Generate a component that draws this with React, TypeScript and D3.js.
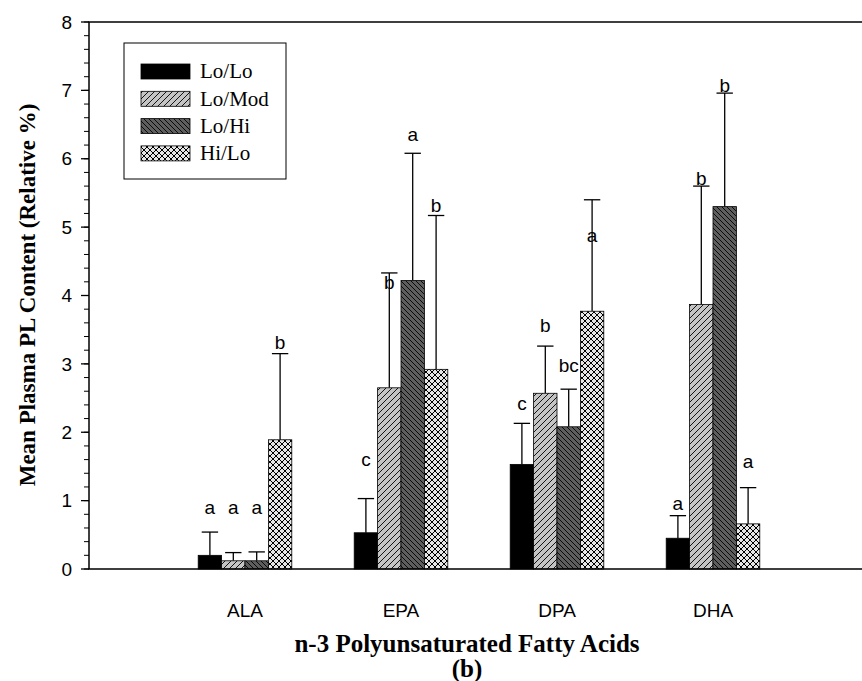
import React, { useRef, useEffect } from 'react';
import * as d3 from 'd3';

// n-3 fatty acid categories and diet groups
const acids = ['ALA', 'EPA', 'DPA', 'DHA'];
const groups = ['Lo/Lo', 'Lo/Mod', 'Lo/Hi', 'Hi/Lo'];

// mean values per group, one entry per acid
const loLo = [0.2, 0.53, 1.53, 0.45];
const loMod = [0.12, 2.65, 2.57, 3.87];
const loHi = [0.12, 4.22, 2.08, 5.3];
const hiLo = [1.89, 2.92, 3.77, 0.66];

// top of the error bar (mean + SD)
const loLoErr = [0.54, 1.03, 2.13, 0.78];
const loModErr = [0.24, 4.33, 3.26, 5.6];
const loHiErr = [0.25, 6.08, 2.63, 6.96];
const hiLoErr = [3.15, 5.17, 5.4, 1.19];

// significance letters and the height of their baseline
const loLoLetters = ['a', 'c', 'c', 'a'];
const loModLetters = ['a', 'b', 'b', 'b'];
const loHiLetters = ['a', 'a', 'bc', 'b'];
const hiLoLetters = ['b', 'b', 'a', 'a'];
const loLoLetterY = [0.8, 1.5, 2.33, 0.87];
const loModLetterY = [0.8, 4.1, 3.47, 5.62];
const loHiLetterY = [0.8, 6.26, 2.88, 6.98];
const hiLoLetterY = [3.22, 5.22, 4.78, 1.48];

const yTicks = [0, 1, 2, 3, 4, 5, 6, 7, 8];

const sans = '"Liberation Sans", Arial, sans-serif';
const serif = '"Liberation Serif", "Times New Roman", serif';

const App: React.FC = () => {
  const svgRef = useRef<SVGSVGElement>(null);
  const width = 862;
  const height = 681;

  useEffect(() => {
    const svg = d3.select(svgRef.current);
    svg.selectAll('*').remove();

    const means = [loLo, loMod, loHi, hiLo];
    const errs = [loLoErr, loModErr, loHiErr, hiLoErr];
    const letters = [loLoLetters, loModLetters, loHiLetters, hiLoLetters];
    const letterY = [loLoLetterY, loModLetterY, loHiLetterY, hiLoLetterY];
    const fills = ['#000', 'url(#pMod)', 'url(#pHi)', 'url(#pHiLo)'];

    // patterns
    const defs = svg.append('defs');
    const pMod = defs.append('pattern')
      .attr('id', 'pMod')
      .attr('patternUnits', 'userSpaceOnUse')
      .attr('width', 6).attr('height', 6);
    pMod.append('rect').attr('width', 6).attr('height', 6).attr('fill', '#c4c4c4');
    pMod.append('path').attr('d', 'M-1,1 l2,-2 M0,6 l6,-6 M5,7 l2,-2')
      .attr('stroke', '#000').attr('stroke-width', 0.9);

    const pHi = defs.append('pattern')
      .attr('id', 'pHi')
      .attr('patternUnits', 'userSpaceOnUse')
      .attr('width', 5).attr('height', 5);
    pHi.append('rect').attr('width', 5).attr('height', 5).attr('fill', '#5e5e5e');
    pHi.append('path').attr('d', 'M-1,4 l2,2 M0,0 l5,5 M4,-1 l2,2')
      .attr('stroke', '#000').attr('stroke-width', 0.9);

    const pHiLo = defs.append('pattern')
      .attr('id', 'pHiLo')
      .attr('patternUnits', 'userSpaceOnUse')
      .attr('width', 6).attr('height', 6);
    pHiLo.append('rect').attr('width', 6).attr('height', 6).attr('fill', '#e6e6e6');
    pHiLo.append('path').attr('d', 'M-1,1 l2,-2 M0,6 l6,-6 M5,7 l2,-2 M-1,5 l2,2 M0,0 l6,6 M5,-1 l2,2')
      .attr('stroke', '#000').attr('stroke-width', 1);

    // scales
    const x = d3.scaleLinear().domain([0, 5]).range([89, 869]);
    const y = d3.scaleLinear().domain([0, 8]).range([569, 22]);
    const barW = (x(1) - x(0)) * 0.15;

    // bars, error bars and letters
    means.forEach((series, gi) => {
      series.forEach((v, ai) => {
        const cx = x(ai + 1) + (gi - 1.5) * barW;
        svg.append('line')
          .attr('x1', cx).attr('x2', cx)
          .attr('y1', y(v)).attr('y2', y(errs[gi][ai]))
          .attr('stroke', '#000').attr('stroke-width', 1.3);
        svg.append('line')
          .attr('x1', cx - barW * 0.35).attr('x2', cx + barW * 0.35)
          .attr('y1', y(errs[gi][ai])).attr('y2', y(errs[gi][ai]))
          .attr('stroke', '#000').attr('stroke-width', 1.3);
        svg.append('rect')
          .attr('x', cx - barW / 2)
          .attr('y', y(v))
          .attr('width', barW)
          .attr('height', y(0) - y(v))
          .attr('fill', fills[gi])
          .attr('stroke', '#000')
          .attr('stroke-width', 0.8);
        svg.append('text')
          .attr('x', cx)
          .attr('y', y(letterY[gi][ai]))
          .attr('text-anchor', 'middle')
          .style('font-family', sans)
          .style('font-size', '19px')
          .text(letters[gi][ai]);
      });
    });

    // frame
    svg.append('path')
      .attr('d', `M${x(5)},${y(8)} H${x(0)} V${y(0)} H${x(5)}`)
      .attr('fill', 'none').attr('stroke', '#000').attr('stroke-width', 1.5);

    // y ticks
    const minor = d3.range(0, 8.001, 0.2);
    svg.selectAll('.minor')
      .data(minor)
      .enter()
      .append('line')
      .attr('x1', x(0) - 5).attr('x2', x(0))
      .attr('y1', d => y(d)).attr('y2', d => y(d))
      .attr('stroke', '#000').attr('stroke-width', 1);
    svg.selectAll('.major')
      .data(yTicks)
      .enter()
      .append('line')
      .attr('x1', x(0) - 8).attr('x2', x(0))
      .attr('y1', d => y(d)).attr('y2', d => y(d))
      .attr('stroke', '#000').attr('stroke-width', 1.3);
    svg.selectAll('.ylab')
      .data(yTicks)
      .enter()
      .append('text')
      .attr('x', x(0) - 17)
      .attr('y', d => y(d))
      .attr('dy', '0.35em')
      .attr('text-anchor', 'end')
      .style('font-family', sans)
      .style('font-size', '19px')
      .text(d => d);

    // x labels
    svg.selectAll('.xlab')
      .data(acids)
      .enter()
      .append('text')
      .attr('x', (d, i) => x(i + 1))
      .attr('y', 617)
      .attr('text-anchor', 'middle')
      .style('font-family', sans)
      .style('font-size', '19px')
      .text(d => d);

    // axis titles
    svg.append('text')
      .attr('transform', 'rotate(-90)')
      .attr('x', -295)
      .attr('y', 35)
      .attr('text-anchor', 'middle')
      .style('font-family', serif)
      .style('font-weight', 'bold')
      .style('font-size', '23px')
      .text('Mean Plasma PL Content (Relative %)');
    svg.append('text')
      .attr('x', 467)
      .attr('y', 652)
      .attr('text-anchor', 'middle')
      .style('font-family', serif)
      .style('font-weight', 'bold')
      .style('font-size', '25px')
      .text('n-3 Polyunsaturated Fatty Acids');
    svg.append('text')
      .attr('x', 467)
      .attr('y', 677)
      .attr('text-anchor', 'middle')
      .style('font-family', serif)
      .style('font-weight', 'bold')
      .style('font-size', '25px')
      .text('(b)');

    // legend
    const lg = svg.append('g');
    lg.append('rect')
      .attr('x', 124).attr('y', 43)
      .attr('width', 162).attr('height', 136)
      .attr('fill', '#fff').attr('stroke', '#000').attr('stroke-width', 1);
    groups.forEach((g, i) => {
      const cy = 71 + i * 27.3;
      lg.append('rect')
        .attr('x', 141).attr('y', cy - 7)
        .attr('width', 49).attr('height', 15)
        .attr('fill', fills[i]).attr('stroke', '#000').attr('stroke-width', 0.8);
      lg.append('text')
        .attr('x', 200).attr('y', cy)
        .attr('dy', '0.35em')
        .style('font-family', serif)
        .style('font-size', '21px')
        .text(g);
    });
  }, []);

  return (
    <svg
      ref={svgRef}
      width={width}
      height={height}
      style={{ position: 'absolute', left: 0, top: 0, background: '#fff' }}
    />
  );
};

export default App;
